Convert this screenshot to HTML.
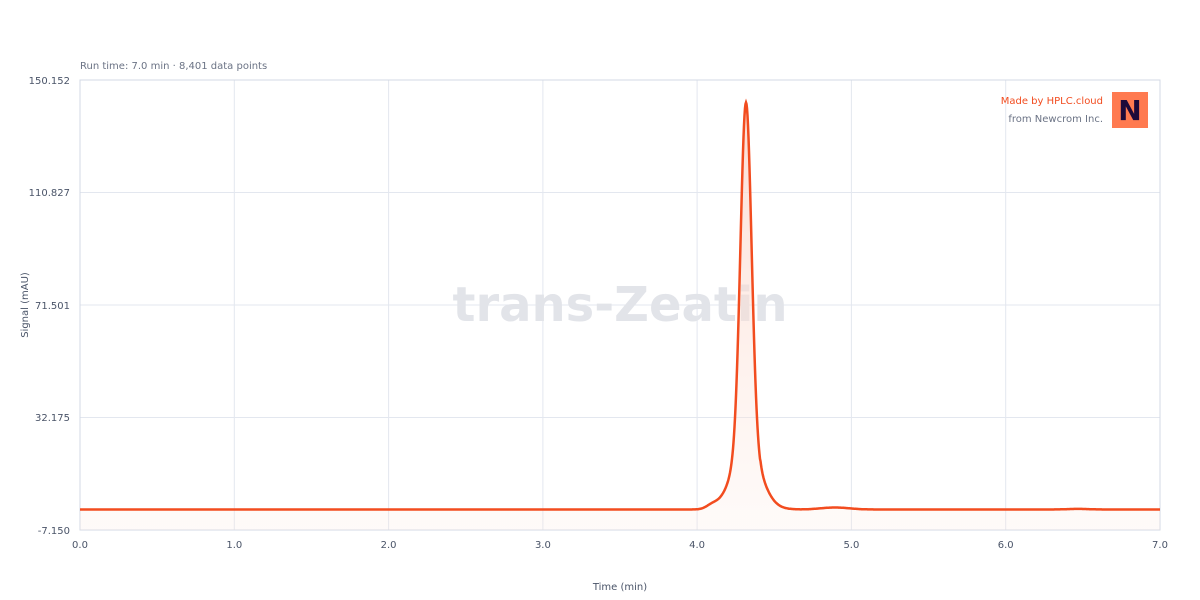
<!DOCTYPE html>
<html><head><meta charset="utf-8"><style>
body{margin:0;background:#fff;}
svg{display:block;font-family:"DejaVu Sans","Liberation Sans",sans-serif;}
</style></head><body>
<svg id="s" width="1200" height="600" viewBox="0 0 1200 600">
<defs><linearGradient id="g" x1="0" y1="0" x2="0" y2="1">
<stop offset="0" stop-color="#fbd5c8" stop-opacity="0.8"/><stop offset="1" stop-color="#fde8e0" stop-opacity="0.2"/></linearGradient></defs>
<g stroke="#e3e7ef" stroke-width="1">
<line x1="234.3" y1="80" x2="234.3" y2="530"/><line x1="388.6" y1="80" x2="388.6" y2="530"/>
<line x1="542.9" y1="80" x2="542.9" y2="530"/><line x1="697.1" y1="80" x2="697.1" y2="530"/>
<line x1="851.4" y1="80" x2="851.4" y2="530"/><line x1="1005.7" y1="80" x2="1005.7" y2="530"/>
<line x1="80" y1="192.5" x2="1160" y2="192.5"/><line x1="80" y1="305" x2="1160" y2="305"/>
<line x1="80" y1="417.5" x2="1160" y2="417.5"/>
</g>
<rect x="80" y="80" width="1080" height="450" fill="none" stroke="#d3d9e4"/>
<text x="620" y="321" text-anchor="middle" font-size="48" font-weight="bold" fill="#e2e4e9">trans-Zeatin</text>
<path id="fill" fill="url(#g)"/>
<path id="line" fill="none" stroke="#f24c1f" stroke-width="2.5"/>
<g font-size="10" fill="#4a5468" text-anchor="end">
<text x="70" y="84">150.152</text><text x="70" y="196">110.827</text><text x="70" y="309">71.501</text>
<text x="70" y="421">32.175</text><text x="70" y="534">-7.150</text></g>
<g font-size="10" fill="#4a5468" text-anchor="middle">
<text x="80" y="548">0.0</text><text x="234.3" y="548">1.0</text><text x="388.6" y="548">2.0</text>
<text x="542.9" y="548">3.0</text><text x="697.1" y="548">4.0</text><text x="851.4" y="548">5.0</text>
<text x="1005.7" y="548">6.0</text><text x="1160" y="548">7.0</text>
<text x="620" y="590">Time (min)</text></g>
<text x="28" y="305" font-size="10" fill="#4a5468" text-anchor="middle" transform="rotate(-90 28 305)">Signal (mAU)</text>
<text x="80" y="69" font-size="10" fill="#6b7385">Run time: 7.0 min · 8,401 data points</text>
<text x="1103" y="104" font-size="10" fill="#f24c1f" text-anchor="end">Made by HPLC.cloud</text>
<text x="1103" y="122" font-size="10" fill="#6b7385" text-anchor="end">from Newcrom Inc.</text>
<rect x="1112" y="92" width="36" height="36" fill="#ff7a50"/>
<text x="1130" y="120" font-size="28" font-weight="bold" fill="#1c0a3a" text-anchor="middle">N</text>
</svg>
<script>
var pts=[];
for(var x=80;x<=1160;x+=0.5){
 var d=x-746;
 var h=407*(0.85*Math.exp(-d*d/(2*5.5*5.5))+0.15*Math.exp(-d*d/(2*14*14)));
 h+=3.5*Math.exp(-Math.pow((x-712)/8,2))*(x<746?1:0);
 h+=2*Math.exp(-Math.pow((x-835)/20,2));
 h+= (x>760&&x<800)?2*Math.exp(-(x-760)/15):0;
 h+=0.6*Math.exp(-Math.pow((x-1078)/15,2));
 pts.push([x,509.5-h]);
}
var p="M"+pts.map(function(a){return a[0].toFixed(1)+","+a[1].toFixed(1)}).join("L");
document.getElementById("line").setAttribute("d",p);
document.getElementById("fill").setAttribute("d",p+"L1160,530L80,530Z");
</script>
</body></html>
